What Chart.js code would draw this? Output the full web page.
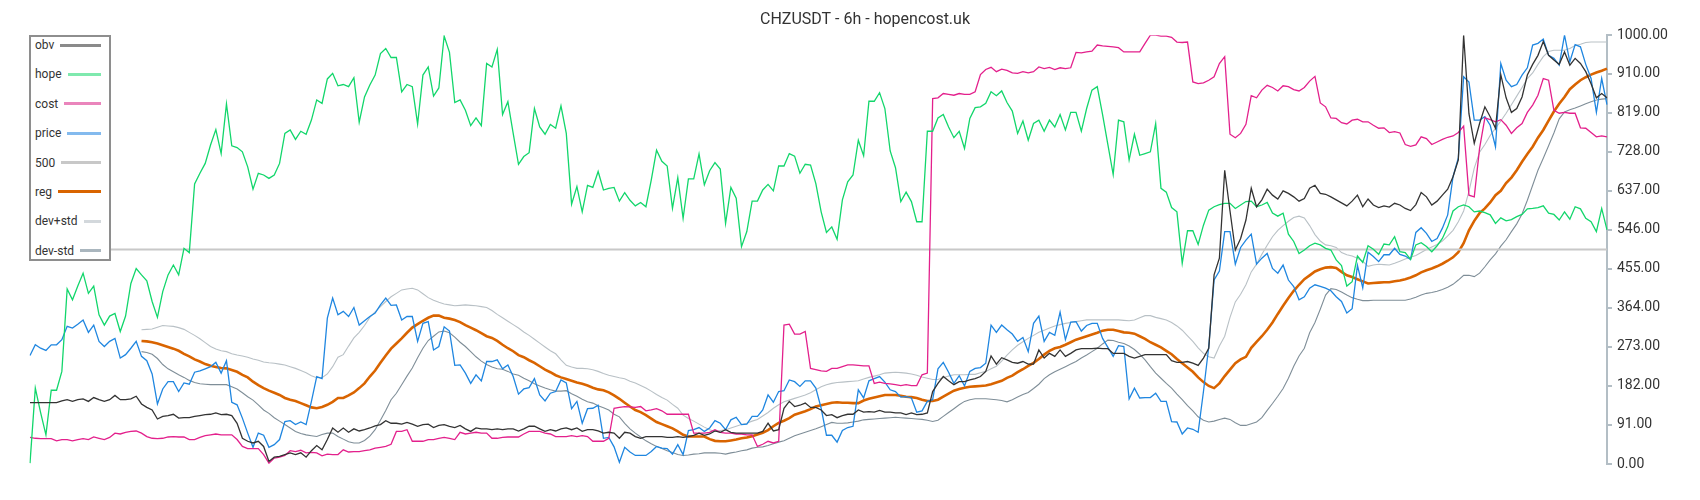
<!DOCTYPE html>
<html>
<head>
<meta charset="utf-8">
<script src="https://cdn.jsdelivr.net/npm/chart.js@4.4.1/dist/chart.umd.min.js"></script>
<style>
  html, body { margin: 0; padding: 0; background: #ffffff; }
  #wrap { position: relative; width: 1700px; height: 500px; }
  #legend {
    position: absolute; left: 29px; top: 35px; width: 82px; height: 226px;
    box-sizing: border-box; border: 2px solid #8e8e8e; background: #ffffff;
    padding: 0 8px 0 4px; font-family: Roboto, sans-serif; font-size: 12px; color: #333;
  }
  #legend .row { display: flex; align-items: center; height: 16px; margin-top: 13.4px; }
  #legend .row:first-child { margin-top: 0; }
  #legend .line { flex: 1; height: 3px; margin-left: 6px; }
</style>
</head>
<body>
<div id="wrap">
  <canvas id="c" width="1700" height="500"></canvas>
  <div id="legend"></div>
</div>
<script>
// ---------- data ----------
const obv = [
  143,143,143,143,143,143,147,150,146,150,152,146,155,150,146,150,160,150,150,152,
  158,140,132,126,105,111,113,116,107,108,108,111,113,115,116,119,115,116,
  113,95,60,53,49,53,41,6,16,18,22,26,22,26,16,31,43,33,57,84,
  74,84,74,82,77,80,84,89,92,101,95,95,93,97,93,88,92,
  93,85,90,92,88,85,90,82,76,84,82,82,80,82,80,82,82,77,82,88,
  88,82,76,80,77,82,84,80,84,76,80,80,77,72,74,72,60,74,
  72,64,60,64,64,64,64,62,62,64,62,64,67,72,67,70,77,74,80,74,
  72,72,72,72,72,76,95,77,80,130,146,134,137,142,132,132,126,113,
  115,108,113,116,116,126,121,122,121,125,121,121,119,119,115,119,115,116,119,169,
  188,204,194,185,192,192,196,199,204,216,252,233,248,243,237,235,239,
  233,233,266,247,258,251,266,251,258,266,269,269,269,270,269,269,258,258,258,251,
  247,251,255,255,255,255,255,241,237,237,239,235,230,247,270,441,480,685,
  590,499,526,569,643,600,616,641,627,618,637,631,623,613,619,643,650,631,629,623,
  616,609,602,613,627,600,618,604,598,602,599,608,604,596,591,605,633,623,
  604,613,627,641,670,709,1000,817,748,794,833,810,783,908,854,820,829,856,907,932,
  953,985,953,942,932,961,930,946,934,915,887,854,864,854
];
const hope = [
  2,177,120,68,172,172,216,408,383,415,445,398,415,348,324,345,351,309,345,421,
  456,441,427,379,342,402,441,464,441,503,493,653,678,701,744,780,724,840,
  742,738,728,693,641,678,674,666,674,701,771,779,757,776,769,802,849,841,898,911,
  882,885,880,901,797,856,884,907,957,969,948,948,868,885,880,793,907,
  926,858,877,998,960,843,849,825,789,807,789,934,926,967,815,845,771,699,717,726,
  829,786,769,792,783,835,771,606,647,588,650,645,682,639,643,645,613,633,
  615,602,610,600,662,732,706,695,596,668,573,665,665,723,651,684,703,688,561,645,
  620,507,542,613,613,639,652,637,695,695,724,718,678,699,697,654,588,540,
  553,524,616,658,674,755,719,846,846,866,829,730,691,612,634,612,565,565,776,776,
  807,815,786,761,776,736,806,831,833,841,868,859,870,843,823,771,800,
  755,794,802,776,802,786,815,779,820,820,776,829,872,880,815,745,675,802,798,709,
  769,720,724,728,794,643,634,598,588,468,544,544,512,557,592,600,605,608,
  608,596,604,612,613,600,604,610,585,578,585,536,519,491,499,509,515,511,503,499,
  476,463,415,425,485,470,509,501,489,513,511,530,495,493,477,511,516,507,
  495,509,526,553,590,600,604,600,588,590,586,581,561,574,567,570,577,582,595,596,
  598,602,585,582,569,588,571,600,595,573,565,542,596,546
];
const cost = [
  62,60,59,59,59,54,57,57,54,57,59,57,63,60,57,62,72,70,74,76,
  77,72,64,60,59,60,63,64,63,63,57,57,62,66,68,70,68,68,
  68,57,41,36,36,36,22,2,14,16,20,31,29,32,26,27,26,19,23,22,
  22,33,28,29,29,31,33,37,39,41,46,76,76,80,53,53,53,
  57,57,60,62,60,57,74,70,72,74,72,72,60,60,62,63,63,63,70,76,
  76,76,72,70,64,64,64,66,64,66,64,53,53,53,60,130,132,134,
  133,132,134,124,126,129,124,116,116,116,116,116,72,72,72,74,80,74,72,72,
  70,70,68,68,41,46,53,49,53,324,326,303,303,309,223,220,217,216,
  223,223,227,231,231,230,229,229,188,191,188,187,185,183,185,183,183,208,212,852,
  854,864,862,860,864,862,862,868,908,920,925,915,921,918,912,911,915,
  912,915,926,922,925,920,924,922,924,960,959,961,963,977,975,974,973,971,961,961,
  961,961,981,1000,1000,998,998,995,984,983,984,891,887,889,895,903,934,950,
  769,761,771,792,859,854,872,883,878,870,882,880,873,870,878,893,904,842,833,807,
  806,796,793,802,804,798,798,790,783,784,773,775,772,745,741,744,763,759,
  745,751,757,762,765,773,788,627,623,736,807,803,798,803,790,771,784,794,820,837,
  860,899,895,825,818,820,818,818,784,783,773,763,765,763
];
const price = [
  253,278,270,265,278,278,290,321,317,326,336,307,324,286,274,286,293,247,255,270,
  286,251,241,210,140,175,192,192,169,189,186,214,217,222,227,237,212,241,
  144,138,107,72,39,72,67,39,45,57,99,101,92,98,92,146,204,199,340,387,
  348,356,344,365,324,334,344,352,371,387,370,371,336,344,344,286,328,
  332,266,274,320,310,230,231,212,188,208,194,239,239,243,222,231,204,163,175,178,
  199,161,147,165,169,196,189,129,146,95,129,130,137,60,62,40,4,39,
  28,20,20,20,29,41,37,36,23,45,22,78,80,85,76,84,101,95,80,103,
  109,92,93,111,111,126,161,144,169,171,196,192,181,194,194,177,130,67,
  67,51,78,85,88,173,154,194,199,204,191,173,169,156,157,154,121,124,146,150,
  222,237,214,188,206,182,216,223,225,235,324,307,324,313,303,286,295,
  262,328,345,286,307,300,354,290,331,332,310,323,328,328,293,272,251,276,274,152,
  177,154,155,155,165,146,146,99,98,70,84,81,74,169,274,429,450,542,
  542,466,505,522,536,466,480,491,456,445,464,429,414,383,390,410,418,414,410,404,
  390,379,352,362,463,411,494,484,472,488,488,503,489,485,477,540,551,538,
  519,526,550,581,670,714,903,891,802,802,810,790,740,934,895,880,885,907,924,977,
  981,991,953,946,930,1000,938,978,973,932,899,820,899,838
];
const level500 = 500;
const bandStart = 21; // reg / dev bands begin at this point
const regVals = [
  287,286,284,281,277,273,269,264,257,251,244,239,233,229,226,224,223,
  219,215,208,202,192,184,177,171,166,161,154,150,147,142,137,132,130,133,138,145,
  154,154,160,167,177,188,204,218,236,253,269,281,293,306,318,326,334,
  341,346,346,341,339,336,331,324,318,312,305,298,294,287,278,270,263,254,249,242,
  236,228,220,214,207,202,198,194,190,187,183,178,174,172,167,160,152,143,
  134,126,121,114,106,98,93,88,83,76,68,64,64,64,64,58,54,53,53,55,
  57,60,62,65,69,73,79,88,96,101,107,115,119,123,128,134,137,140,
  143,144,143,143,142,142,148,152,155,158,161,161,161,159,157,156,154,150,147,147,
  150,157,164,171,175,178,180,181,182,183,186,190,194,201,206,214,221,
  229,236,245,255,264,270,273,278,284,290,294,298,302,306,311,313,313,310,307,306,
  304,298,292,284,278,272,264,256,245,235,225,215,202,191,182,177,188,205,
  220,235,244,250,271,285,298,313,330,350,369,387,404,418,431,440,449,454,458,459,
  457,448,440,436,431,426,421,422,423,424,424,426,428,431,435,440,447,452,
  456,461,467,474,482,494,515,545,567,585,596,610,627,637,655,668,685,705,723,740,
  761,779,801,822,840,856,874,885,895,902,908,913,917,922
];
const devPlusVals = [
  313,314,315,319,323,322,321,318,314,307,300,292,283,274,268,264,262,
  257,254,252,249,245,242,238,236,235,233,231,227,223,218,213,206,201,201,210,227,
  249,255,275,294,307,323,342,355,367,379,390,398,406,408,410,406,397,
  388,382,377,373,371,369,370,371,370,369,367,365,358,349,341,333,325,317,308,300,
  291,282,273,264,257,243,230,226,223,223,222,220,216,211,207,204,201,199,
  193,189,183,177,170,162,155,149,139,130,114,106,100,93,86,80,76,78,80,84,
  88,92,95,100,104,112,120,130,138,145,149,153,157,161,166,173,180,185,
  188,190,191,192,193,194,198,202,205,208,212,213,214,213,212,210,207,203,200,197,
  197,201,205,208,208,208,209,209,213,216,222,228,240,254,266,277,285,
  293,300,307,312,317,322,325,328,330,332,334,336,336,336,336,336,336,336,335,334,
  336,341,346,346,342,339,336,330,322,312,299,286,271,258,250,247,275,298,
  342,378,396,418,448,466,489,510,530,545,556,566,575,578,574,556,535,520,511,509,
  505,493,488,485,480,473,461,464,466,465,464,468,473,478,482,486,493,500,
  506,512,520,532,545,565,590,636,690,727,745,766,783,800,818,838,858,878,899,912,
  932,950,962,965,965,965,969,976,979,983,984,984,984,984
];
const devMinusVals = [
  262,260,256,246,232,222,215,208,202,195,190,187,186,185,185,185,185,
  180,175,166,157,149,138,126,118,108,100,92,84,76,71,68,66,64,69,72,72,
  64,58,52,49,49,55,65,80,102,125,150,165,185,205,224,248,270,
  288,298,308,310,306,296,284,274,262,250,240,232,226,222,221,216,210,207,200,194,
  187,182,177,173,170,170,171,164,158,151,145,142,136,131,126,116,110,95,
  82,72,63,54,47,41,36,31,27,22,20,21,23,24,26,26,26,25,23,26,
  28,31,33,37,39,40,43,47,51,54,60,66,70,74,78,82,87,92,
  97,95,95,96,98,100,103,104,105,106,107,108,109,108,107,106,105,104,102,99,
  102,111,120,129,138,146,150,152,152,152,151,150,148,145,150,156,162,
  167,176,186,199,208,215,221,227,233,239,247,254,262,270,280,289,288,284,281,275,
  267,256,243,227,212,200,188,177,163,150,136,124,110,102,98,100,104,107,
  104,96,90,90,94,98,108,125,141,158,176,200,228,252,270,306,330,361,394,409,
  407,401,394,388,384,381,381,382,382,382,382,382,382,382,385,389,394,398,
  400,403,407,412,419,429,440,440,437,445,460,476,490,508,523,542,560,583,615,650,
  685,713,742,772,805,821,826,830,835,840,845,849,851,852
];
const yTickValues = [0, 91, 182, 273, 364, 455, 546, 637, 728, 819, 910, 1000];
const titleText = 'CHZUSDT - 6h - hopencost.uk';

// ---------- build ----------
const categories = price.map((_, i) => String(i));
const pad = (vals) => new Array(bandStart).fill(null).concat(vals);
const series = [
  { label: 'obv',     data: obv,                          color: '#333333', key: '#8a8a8a', w: 1.3 },
  { label: 'hope',    data: hope,                         color: '#12d66b', key: '#7fe9ae', w: 1.3 },
  { label: 'cost',    data: cost,                         color: '#e3208c', key: '#ea85bc', w: 1.3 },
  { label: 'price',   data: price,                        color: '#1f86e0', key: '#83baee', w: 1.3 },
  { label: '500',     data: categories.map(() => level500), color: '#c8c8c8', key: '#c8c8c8', w: 2 },
  { label: 'reg',     data: pad(regVals),                 color: '#d96400', key: '#d96400', w: 2.6 },
  { label: 'dev+std', data: pad(devPlusVals),             color: '#b9c1c6', key: '#d3d8dc', w: 1.1 },
  { label: 'dev-std', data: pad(devMinusVals),            color: '#7f8e98', key: '#aab6be', w: 1.1 }
];

const legend = document.getElementById('legend');
series.forEach(s => {
  const row = document.createElement('div'); row.className = 'row';
  const t = document.createElement('span'); t.textContent = s.label;
  const l = document.createElement('span'); l.className = 'line'; l.style.background = s.key;
  row.appendChild(t); row.appendChild(l); legend.appendChild(row);
});

new Chart(document.getElementById('c'), {
  type: 'line',
  data: {
    labels: categories,
    datasets: series.map(s => ({
      label: s.label, data: s.data, borderColor: s.color, backgroundColor: s.color,
      borderWidth: s.w, pointRadius: 0, tension: 0, fill: false, spanGaps: false
    }))
  },
  options: {
    responsive: false, animation: false, devicePixelRatio: 1,
    layout: { padding: { left: 30, right: 0, top: 0, bottom: 36 } },
    plugins: {
      legend: { display: false },
      tooltip: { enabled: false },
      title: {
        display: true, text: titleText, color: '#333',
        font: { family: 'Roboto', size: 16, weight: 'normal' },
        padding: { top: 10, bottom: 6 }
      }
    },
    scales: {
      x: { display: false },
      y: {
        position: 'right', min: 0, max: 1000,
        afterBuildTicks: (s) => { s.ticks = yTickValues.map(v => ({ value: v })); },
        afterFit: (s) => { s.width = 93; },
        ticks: {
          autoSkip: false, padding: 5, color: '#333',
          font: { family: 'Roboto', size: 14 },
          callback: (v) => Number(v).toFixed(2)
        },
        grid: { drawOnChartArea: false, drawTicks: true, tickLength: 5, color: '#b3bec5', lineWidth: 2 },
        border: { display: true, color: '#b3bec5', width: 2 }
      }
    }
  }
});
</script>
</body>
</html>
